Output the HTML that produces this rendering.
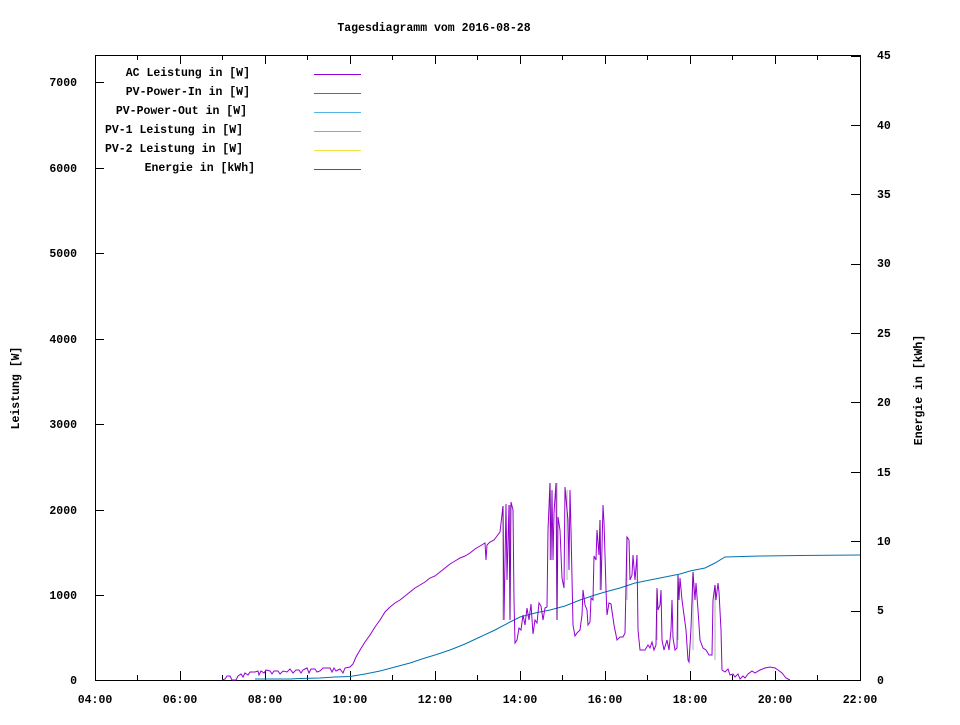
<!DOCTYPE html>
<html><head><meta charset="utf-8"><style>
body{margin:0;background:#fff}
svg text{font-family:"Liberation Mono",monospace;font-size:11.5px;font-weight:bold;fill:#000}
</style></head><body>
<svg width="960" height="720" viewBox="0 0 960 720" xmlns="http://www.w3.org/2000/svg">
<rect width="960" height="720" fill="#fff"/>
<text x="434" y="31" text-anchor="middle">Tagesdiagramm vom 2016-08-28</text>
<rect x="95.5" y="55.5" width="765" height="625" fill="none" stroke="#000" stroke-width="1"/>
<g stroke="#000" stroke-width="1">
<path d="M95 595.5h9M95 510.5h9M95 424.5h9M95 339.5h9M95 253.5h9M95 168.5h9M95 82.5h9"/>
<path d="M860 611.5h-9M860 541.5h-9M860 472.5h-9M860 402.5h-9M860 333.5h-9M860 264.5h-9M860 194.5h-9M860 125.5h-9M860 56.5h-9"/>
<path d="M180.5 680v-9M265.5 680v-9M350.5 680v-9M435.5 680v-9M520.5 680v-9M605.5 680v-9M690.5 680v-9M775.5 680v-9"/>
<path d="M137.5 680v-5M222.5 680v-5M307.5 680v-5M392.5 680v-5M477.5 680v-5M562.5 680v-5M647.5 680v-5M732.5 680v-5M817.5 680v-5"/>
<path d="M180.5 55v9M265.5 55v9M350.5 55v9M435.5 55v9M520.5 55v9M605.5 55v9M690.5 55v9M775.5 55v9"/>
<path d="M137.5 55v5M222.5 55v5M307.5 55v5M392.5 55v5M477.5 55v5M562.5 55v5M647.5 55v5M732.5 55v5M817.5 55v5"/>
</g>
<g text-anchor="end">
<text x="77" y="684">0</text><text x="77" y="599">1000</text><text x="77" y="514">2000</text><text x="77" y="428">3000</text><text x="77" y="343">4000</text><text x="77" y="257">5000</text><text x="77" y="172">6000</text><text x="77" y="86">7000</text>
</g>
<g>
<text x="877" y="684">0</text><text x="877" y="614">5</text><text x="877" y="545">10</text><text x="877" y="476">15</text><text x="877" y="406">20</text><text x="877" y="337">25</text><text x="877" y="267">30</text><text x="877" y="198">35</text><text x="877" y="129">40</text><text x="877" y="59">45</text>
</g>
<g text-anchor="middle">
<text x="95" y="703">04:00</text><text x="180" y="703">06:00</text><text x="265" y="703">08:00</text><text x="350" y="703">10:00</text><text x="435" y="703">12:00</text><text x="520" y="703">14:00</text><text x="605" y="703">16:00</text><text x="690" y="703">18:00</text><text x="775" y="703">20:00</text><text x="860" y="703">22:00</text>
</g>
<text transform="translate(19,388) rotate(-90)" text-anchor="middle">Leistung [W]</text>
<text transform="translate(922,390) rotate(-90)" text-anchor="middle">Energie in [kWh]</text>
<g text-anchor="end">
<text x="250" y="76">AC Leistung in [W]</text>
<text x="250" y="95">PV-Power-In in [W]</text>
<text x="247" y="114">PV-Power-Out in [W]</text>
<text x="243" y="133">PV-1 Leistung in [W]</text>
<text x="243" y="152">PV-2 Leistung in [W]</text>
<text x="255" y="171">Energie in [kWh]</text>
</g>
<path d="M314 74.5h47" stroke="#9400d3"/>
<path d="M314 93.5h47" stroke="#009e73"/>
<path d="M314 112.5h47" stroke="#56b4e9"/>
<path d="M314 131.5h47" stroke="#e69f00"/>
<path d="M314 150.5h47" stroke="#f0e442"/>
<path d="M314 169.5h47" stroke="#0072b2"/>
<polyline fill="none" stroke="#0072b2" stroke-width="1" points="255,679 290,679 300,678.5 320,678 335,677 350,676.5 365,674 380,671 395,667 410,663 425,658 435,655 450,650 465,644 480,637 495,630 510,622 520,617 535,613 550,610 565,606 580,600 595,595 605,592 620,588 635,583 650,580 665,577 680,574 690,571 705,568 715,563 725,557 760,556 800,555.5 860,555"/>
<polyline fill="none" stroke="#9400d3" stroke-width="1" points="222,680 225,679 227,676 230,676 232,680 236,680 238,676 241,674 243,677 245,673 248,675 250,672 255,672 258,671 259,675 261,671 264,673 266,670 270,671 272,674 274,671 278,671 280,674 283,671 287,672 290,669 293,673 296,670 299,670 301,673 303,670 305,669 307,668 309,673 311,669 315,669 317,672 320,671 323,668 330,668 332,672 334,668 336,671 338,670 340,669 343,673 345,668 350,667 353,664 356,657 360,650 365,642 370,635 375,627 380,620 385,612 390,607 395,603 400,600 405,596 410,592 415,588 420,585 425,582 430,578 435,576 440,572 445,568 450,564 455,561 460,558 465,556 470,553 475,549 480,546 485,543 486,560 487,545 490,542 494,540 497,536 500,532 503,506 504,620 506,504 507,580 509,505 510,620 511,502 513,510 514,600 515,643 517,640 519,628 521,630 523,615 525,625 527,608 529,620 531,604 533,634 535,620 537,623 539,603 541,606 543,620 545,608 547,607 548,530 550,483 551,560 552,490 553,560 554,513 556,483 557,620 558,517 560,530 562,578 564,588 565,487 567,510 568,520 569,570 570,490 571,530 573,625 575,636 577,633 580,630 582,615 583,590 585,605 587,610 588,625 590,622 591,598 593,600 594,556 596,560 597,530 599,555 600,520 601,590 603,505 604,522 605,555 606,590 607,615 609,603 611,604 614,625 617,640 620,637 623,637 625,633 627,537 629,540 630,580 632,575 633,555 635,580 637,555 638,630 640,650 642,650 645,650 648,645 650,648 652,642 654,650 656,645 657,588 658,610 660,605 661,590 662,640 664,650 667,640 669,650 671,630 672,600 673,638 675,650 677,648 678,575 679,600 680,578 682,600 684,615 686,630 688,660 689,662 691,628 693,572 695,600 696,583 698,610 700,640 703,648 706,650 709,655 712,655 713,600 715,585 716,600 718,583 719,592 721,630 722,670 725,672 728,669 730,675 733,674 735,677 738,674 740,679 743,676 745,678 748,674 752,671 755,673 760,670 765,668 770,667 775,668 778,670 782,673 786,678 790,680"/>
<path d="M503 620V506M510 620V505M550 560V483M557 620V483M567 580V490M600 590V520M627 600V537M657 640V590M678 640V575M693 650V572M715 660V585" stroke="#000" stroke-width="0.6" opacity="0.5"/>
</svg>
</body></html>
